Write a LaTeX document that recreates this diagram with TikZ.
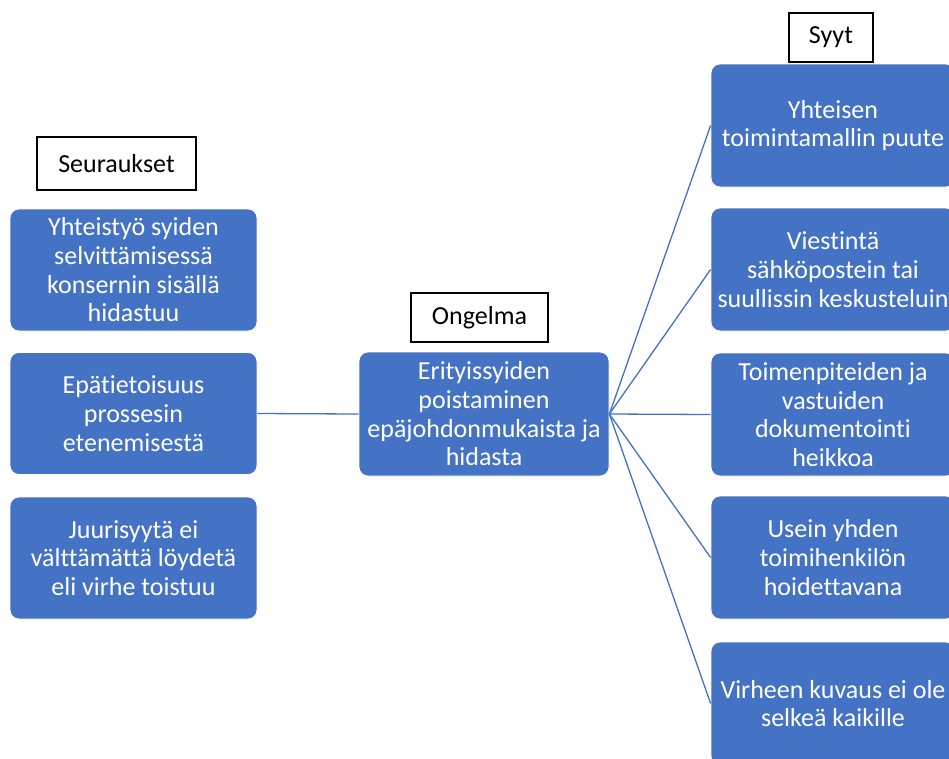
\documentclass[tikz,border=0pt]{standalone}
\usepackage{fontspec}
\setmainfont{Carlito}[Ligatures=NoCommon]
\definecolor{boxblue}{HTML}{4472C4}
\begin{document}
\begin{tikzpicture}[x=1pt,y=-1pt,
 box/.style={rectangle, rounded corners=9pt, fill=boxblue, draw=white, line width=0.8pt, text=white, align=center, font=\fontsize{26}{28.7}\selectfont, inner sep=0pt},
 lbox/.style={box, minimum width=247pt, minimum height=122pt},
 rbox/.style={box, minimum width=244pt, minimum height=123pt},
 lbl/.style={rectangle, draw=black, line width=1.3pt, fill=white, font=\fontsize{26}{28.7}\selectfont, inner sep=0pt},
 conn/.style={draw=boxblue, line width=1.3pt}]
\useasboundingbox (0,0) rectangle (949,758);
\clip (0,0) rectangle (949,758);
% labels
\node[lbl, minimum width=159pt, minimum height=53pt] (seur) at (116.5,163.5) {Seuraukset};
\node[lbl, minimum width=137pt, minimum height=49pt] (ong) at (479.5,317.5) {Ongelma};
\node[lbl, minimum width=84pt, minimum height=49pt] (syyt) at (831,37.5) {Syyt};
% left boxes
\node[lbox] (c1) at (133.5,270) {Yhteistyö syiden\\selvittämisessä\\konsernin sisällä\\hidastuu};
\node[lbox] (c2) at (133.5,413.5) {Epätietoisuus\\prossesin\\etenemisestä};
\node[lbox] (c3) at (133.5,558) {Juurisyytä ei\\välttämättä löydetä\\eli virhe toistuu};
% centre
\node[box, minimum width=250pt, minimum height=124pt] (prob) at (484,414) {Erityissyiden\\poistaminen\\epäjohdonmukaista ja\\hidasta};
% right boxes
\node[rbox] (r1) at (833,125.5) {Yhteisen\\toimintamallin puute};
\node[rbox] (r2) at (833,269.5) {Viestintä\\sähköpostein tai\\suullissin keskusteluin};
\node[rbox] (r3) at (833,414.5) {Toimenpiteiden ja\\vastuiden\\dokumentointi\\heikkoa};
\node[rbox] (r4) at (833,557.5) {Usein yhden\\toimihenkilön\\hoidettavana};
\node[rbox] (r5) at (833,703.5) {Virheen kuvaus ei ole\\selkeä kaikille};
% connectors
\draw[conn] (c2.east) -- (prob.west);
\foreach \r in {r1,r2,r3,r4,r5} \draw[conn] (prob.east) -- (\r.west);
\end{tikzpicture}
\end{document}
